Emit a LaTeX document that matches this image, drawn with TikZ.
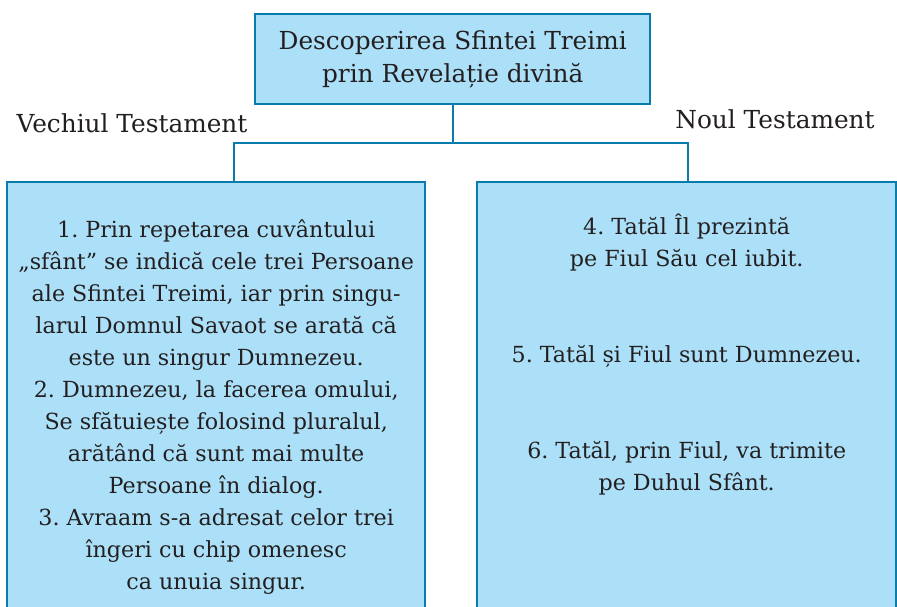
\documentclass[tikz,border=0pt]{standalone}
\usepackage{fontspec}
\setmainfont{DejaVu Serif}
\usepackage{tikz}
\usetikzlibrary{calc, positioning}
\definecolor{myblue}{RGB}{10, 124, 172}
\definecolor{mylightblue}{RGB}{172, 224, 248}
\definecolor{mytext}{RGB}{35, 31, 32}
\frenchspacing

\begin{document}
\begin{tikzpicture}[
    x = 1pt, y = -1pt,
    box/.style = {draw = myblue, fill = mylightblue, line width = 2.4pt, inner sep = 0pt},
    txt/.style = {align = center, text = mytext, font = \fontsize{22.2}{32}\selectfont},
    big/.style = {txt, font = \fontsize{24.8}{33}\selectfont},
    link/.style = {draw = myblue, line width = 2.4pt}
]
\useasboundingbox (0,0) rectangle (897,607);
\clip (0,0) rectangle (897,607);

\node[box, anchor = north west, minimum width = 395, minimum height = 90] (title) at (254, 13) {};
\node[big] (titletxt) at (title.center) {Descoperirea Sfintei Treimi\\prin Revelație divină};

\node[box, anchor = north west, minimum width = 418, minimum height = 449] (vechi) at (6, 181) {};
\node[box, anchor = north west, minimum width = 419, minimum height = 449] (nou) at (476, 181) {};

\node[txt] (vechitxt) at (vechi.center) {1. Prin repetarea cuvântului\\
„sfânt” se indică cele trei Persoane\\
ale Sfintei Treimi, iar prin singu-\\
larul Domnul Savaot se arată că\\
este un singur Dumnezeu.\\
2. Dumnezeu, la facerea omului,\\
Se sfătuiește folosind pluralul,\\
arătând că sunt mai multe\\
Persoane în dialog.\\
3. Avraam s-a adresat celor trei\\
îngeri cu chip omenesc\\
ca unuia singur.};

\node[txt] (noutxt) at ($(nou.center) + (0, -52)$) {4. Tatăl Îl prezintă\\
pe Fiul Său cel iubit.\\[64pt]
5. Tatăl și Fiul sunt Dumnezeu.\\[64pt]
6. Tatăl, prin Fiul, va trimite\\
pe Duhul Sfânt.};

\node[big] (vechilbl) at (132, 123) {Vechiul Testament};
\node[big] (noulbl) at (775, 119) {Noul Testament};

% connectors
\coordinate (jl) at (234, 143);
\coordinate (jr) at (688, 143);
\draw[link] (title.south) -- (title.south |- jl);
\draw[link] (jl |- vechi.north) -- (jl) -- (jr) -- (jr |- nou.north);

\end{tikzpicture}
\end{document}
